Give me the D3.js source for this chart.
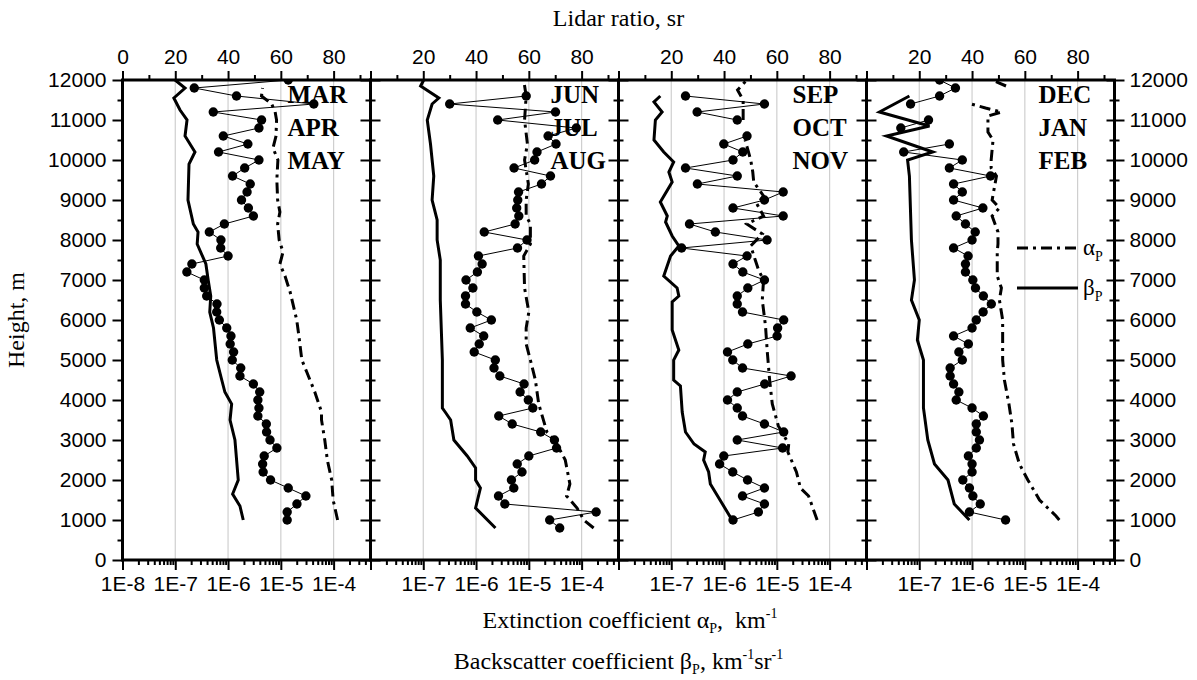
<!DOCTYPE html>
<html>
<head>
<meta charset="utf-8">
<script src="https://cdn.jsdelivr.net/npm/d3@7"></script>
<style>
  body { margin: 0; background: #fff; }
  svg { display: block; }
  .axis path.domain { display: none; }
  .axis line { stroke: #000; stroke-width: 2; }
  .axis text { font-family: "Liberation Sans", Arial, sans-serif; font-size: 21px; fill: #000; }
  .serif { font-family: "Liberation Serif", "Times New Roman", serif; fill: #000; }
</style>
</head>
<body>
<svg id="chart" width="1197" height="680"></svg>
<script>
// heights of the lidar ratio points (m)
var heights = [800,
  1000, 1200, 1400, 1600, 1800, 2000, 2200, 2400, 2600, 2800,
  3000, 3200, 3400, 3600, 3800, 4000, 4200, 4400, 4600, 4800,
  5000, 5200, 5400, 5600, 5800, 6000, 6200, 6400, 6600, 6800,
  7000, 7200, 7400, 7600, 7800, 8000, 8200, 8400, 8600, 8800,
  9000, 9200, 9400, 9600, 9800, 10000, 10200, 10400, 10600, 10800,
  11000, 11200, 11400, 11600, 11800, 12000];

var seasons = [["MAR", "APR", "MAY"], ["JUN", "JUL", "AUG"], ["SEP", "OCT", "NOV"], ["DEC", "JAN", "FEB"]];

// lidar ratio, sr (same order as heights)
var lrMAM = [null,
  62.4, 62.4, 66.1, 69.5, 62.8, 56.1, 53.3, 53.1, 53.7, 58.5,
  55.9, 54.6, 54.5, 51.3, 51.7, 51.3, 52.0, 49.6, 44.5, 44.8,
  41.6, 42.1, 40.8, 41.1, 39.5, 36.7, 35.7, 35.8, 31.9, 31.0,
  31.0, 24.4, 26.3, 40.0, 37.2, 37.3, 32.9, 38.6, 49.6, 47.7,
  45.1, 47.2, 48.4, 41.7, 46.3, 51.7, 36.4, 47.5, 38.2, 51.7,
  52.7, 34.4, 72.5, 43.2, 27.2, 62.8];
var lrJJA = [71.7,
  67.9, 85.5, 50.9, 48.5, 54.3, 53.4, 57.4, 55.6, 60.0, 70.5,
  69.7, 64.5, 53.7, 48.6, 61.5, 59.8, 56.7, 58.2, 49.0, 46.8,
  47.3, 39.3, 41.2, 42.9, 37.8, 45.8, 40.3, 36.0, 36.0, 38.8,
  36.2, 40.5, 42.3, 40.9, 55.7, 59.3, 43.1, 54.8, 56.2, 55.4,
  55.8, 56.1, 64.8, 68.2, 54.4, 62.2, 63.1, 70.3, 67.3, 78.0,
  48.2, 70.1, 30.0, 59.0, null, null];
var lrSON = [null,
  43.4, 53.0, 55.3, 47.0, 55.3, 48.9, 43.3, 38.3, 39.9, 62.2,
  45.0, 62.6, 55.3, 47.0, 45.0, 41.3, 45.0, 55.4, 65.4, 47.0,
  43.3, 41.3, 49.0, 60.1, 60.3, 62.6, 47.0, 45.0, 45.0, 49.0,
  55.3, 47.1, 43.4, 48.7, 23.9, 56.3, 36.7, 26.9, 62.4, 43.4,
  55.3, 62.4, 29.9, 45.0, 25.4, 43.4, 47.1, 39.9, 48.7, null,
  45.0, 29.8, 55.3, 25.4, null, null];
var lrDJF = [null,
  52.7, 39.0, 43.1, 40.3, 39.0, 36.5, 40.0, 40.0, 38.6, 41.6,
  42.8, 41.6, 41.6, 44.3, 40.0, 34.0, 35.0, 33.0, 31.7, 31.7,
  36.3, 35.0, 38.6, 33.0, 40.0, 41.6, 44.2, 47.3, 44.3, 41.3,
  40.3, 37.5, 37.5, 38.5, 33.0, 40.0, 41.2, 37.5, 34.0, 44.1,
  33.0, 36.3, 33.0, 47.0, 31.4, 36.3, 14.1, 31.4, null, 13.0,
  23.5, null, 16.7, 27.7, 33.7, 27.7];

// extinction alpha_P, km-1 : [height m, value]
var alphaMAM = [[1000, 1.19e-4], [1500, 9.8e-5], [2000, 9.2e-5], [2500, 7.6e-5], [3000, 6.8e-5],
  [3500, 5.9e-5], [3700, 5.9e-5], [4200, 4.4e-5], [4700, 3.1e-5], [5000, 2.5e-5], [5600, 2.2e-5],
  [6000, 2.0e-5], [6700, 1.5e-5], [7100, 1.2e-5], [7400, 9.6e-6], [7700, 1.1e-5], [8000, 9.3e-6],
  [8400, 8.7e-6], [8700, 9.6e-6], [9000, 8.7e-6], [9500, 8.4e-6], [10000, 8.8e-6], [10300, 7.1e-6],
  [10600, 8.1e-6], [11000, 8.3e-6], [11200, 7.8e-6], [11400, 6.7e-6], [11600, 4.3e-6], [11800, 4.5e-6]];
var alphaJJA = [[800, 1.69e-4], [1000, 1.1e-4], [1300, 8.2e-5], [1600, 5.2e-5], [1900, 6.0e-5],
  [2500, 4.9e-5], [2900, 3.4e-5], [3200, 2.2e-5], [3900, 1.54e-5], [4500, 1.33e-5], [5000, 1.07e-5],
  [5400, 8.9e-6], [5800, 8.9e-6], [6200, 1.0e-5], [6800, 8.3e-6], [7600, 8.0e-6], [7900, 1.07e-5],
  [8400, 1.07e-5], [8600, 8.9e-6], [9000, 8.9e-6], [9400, 9.8e-6], [10000, 8.3e-6], [10400, 9.4e-6],
  [11000, 8.3e-6], [11600, 8.9e-6], [12000, 8.0e-6]];
var alphaSON = [[1000, 5.8e-5], [1600, 4.0e-5], [1800, 2.8e-5], [2200, 2.35e-5], [2700, 1.62e-5],
  [2900, 1.68e-5], [3350, 1.07e-5], [3900, 8.2e-6], [4500, 7.3e-6], [5200, 6.6e-6], [5850, 6.1e-6],
  [6500, 5.3e-6], [7000, 5.6e-6], [7250, 4.5e-6], [7500, 3.9e-6], [7850, 3.2e-6], [8150, 5.3e-6],
  [8400, 2.7e-6], [8600, 5.6e-6], [8900, 4.2e-6], [9100, 5.6e-6], [9450, 3.65e-6], [9700, 3.5e-6],
  [10000, 3.2e-6], [10200, 2.9e-6], [10500, 2.5e-6], [10800, null], [11000, 2.3e-6], [11500, 2.3e-6],
  [11750, 1.8e-6], [12000, 2.7e-6]];
var alphaDJF = [[1000, 4.5e-5], [1100, 3.9e-5], [1500, 1.9e-5], [2000, 1.14e-5], [2400, 7.9e-6],
  [2900, 6.1e-6], [3400, 5.7e-6], [3900, 5.0e-6], [4500, 4.1e-6], [5000, 3.8e-6], [5400, 3.8e-6],
  [6000, 3.8e-6], [6500, 3.3e-6], [6800, 3.6e-6], [7100, 3.0e-6], [7700, 3.0e-6], [7900, 3.1e-6],
  [8200, 3.1e-6], [8600, 2.4e-6], [8800, 3.3e-6], [9000, 2.4e-6], [9600, 2.9e-6], [9800, 2.3e-6],
  [10000, 2.3e-6], [10500, 2.5e-6], [10700, 2.0e-6], [11100, 2.0e-6], [11200, 3.6e-6], [11300, 1.8e-6],
  [11400, 9.6e-7], [11600, null], [11850, 4.4e-6], [12000, 2.4e-6]];

// backscatter beta_P, km-1 sr-1 : [height m, value]
var betaMAM = [[1000, 1.94e-6], [1350, 1.68e-6], [1650, 1.22e-6], [2000, 1.56e-6], [3000, 1.35e-6],
  [3500, 1.09e-6], [3900, 1.17e-6], [4200, 8.7e-7], [4500, 7.6e-7], [5000, 6.1e-7], [5800, 5.3e-7],
  [6200, 4.5e-7], [6600, 4.7e-7], [7000, 4.2e-7], [7400, 3.8e-7], [7900, 2.6e-7], [8200, 2.7e-7],
  [8400, 2.2e-7], [9000, 1.74e-7], [9900, 1.82e-7], [10200, 2.36e-7], [10600, 1.53e-7], [11000, 1.67e-7],
  [11250, 1.23e-7], [11550, 9.4e-8], [11800, 1.53e-7], [12000, 9.9e-8]];
var betaJJA = [[800, 2.33e-6], [1300, 9.8e-7], [1800, 1.21e-6], [2000, 9.8e-7], [2300, 9.8e-7],
  [2600, 6.8e-7], [3000, 3.8e-7], [3500, 3.3e-7], [3700, 2.6e-7], [3800, 2.3e-7], [5000, 2.3e-7],
  [6500, 2.1e-7], [7500, 2.1e-7], [8000, 1.83e-7], [8500, 1.83e-7], [9000, 1.47e-7], [9600, 1.58e-7],
  [10400, 1.37e-7], [11000, 1.19e-7], [11400, 1.47e-7], [11550, 1.97e-7], [11850, 8.9e-8], [12000, 1.02e-7]];
var betaSON = [[1000, 1.42e-6], [1900, 5.5e-7], [2200, 5.1e-7], [2500, 4.1e-7], [2700, 4.4e-7],
  [2900, 2.7e-7], [3200, 1.86e-7], [3700, 1.61e-7], [4350, 1.49e-7], [4500, 1.11e-7], [5000, 1.11e-7],
  [5250, 1.39e-7], [5750, 1.04e-7], [6450, 1.04e-7], [6600, 1.39e-7], [6800, 1.29e-7], [7100, 7.2e-8],
  [7600, 9.7e-8], [7850, 1.39e-7], [8100, 1.04e-7], [8450, 7.8e-8], [8600, 8.4e-8], [8950, 6.2e-8],
  [9450, 1.04e-7], [9700, 9.0e-8], [9950, 1.11e-7], [10200, 7.2e-8], [10500, 4.7e-8], [11000, 5.0e-8],
  [11200, 6.7e-8], [11450, 4.7e-8], [11600, 6.2e-8]];
var betaDJF = [[1000, 8.9e-7], [1400, 4.6e-7], [2000, 3.5e-7], [2400, 1.94e-7], [3000, 1.45e-7],
  [3800, 1.2e-7], [5000, 1.2e-7], [5500, 9.2e-8], [6000, 1.0e-7], [6500, 7.1e-8], [7000, 8.1e-8],
  [8000, 7.1e-8], [9600, 6.5e-8], [10000, 6.0e-8], [10200, 1.8e-7], [10600, 2.4e-8], [10850, 1.56e-7],
  [11200, 1.76e-8], [11600, 6.5e-8]];

var lrSets = [lrMAM, lrJJA, lrSON, lrDJF];
var alphaSets = [alphaMAM, alphaJJA, alphaSON, alphaDJF];
var betaSets = [betaMAM, betaJJA, betaSON, betaDJF];

var svg = d3.select("#chart");
var plotLeft = 122.5, plotTop = 80, plotBottom = 560, panelW = 248;
var labelOffsets = [165, 180, 174, 172];   // where the month names start in each panel
var dashDot = "11,5,3,5";

var y = d3.scaleLinear().domain([0, 12000]).range([plotBottom, plotTop]);
var x = d3.scaleLog().domain([1e-8, 5e-4]).range([0, panelW]);
// top axis: 20 sr per decade of the bottom axis
var lrMax = 20 * Math.log10(5e-4 / 1e-8);
var xLR = d3.scaleLinear().domain([0, lrMax]).range([0, panelW]);

var decades = [1e-8, 1e-7, 1e-6, 1e-5, 1e-4];
var minorLog = [];
decades.forEach(function (d) {
  for (var k = 2; k <= 9; k++) {
    if (d * k <= 5e-4) minorLog.push(d * k);
  }
});
var yMajor = d3.range(0, 12001, 1000);
var yMinor = d3.range(500, 12000, 1000);

function expLabel(d) {
  return "1E" + Math.round(Math.log10(d));
}

svg.append("defs").append("clipPath")
  .attr("id", "plot-clip")
  .append("rect")
  .attr("x", 0)
  .attr("y", plotTop)
  .attr("width", panelW)
  .attr("height", plotBottom - plotTop);

for (var p = 0; p < 4; p++) {
  drawPanel(p);
}

function drawPanel(p) {
  var g = svg.append("g")
    .attr("transform", "translate(" + (plotLeft + p * panelW) + ",0)");

  //grid lines at every decade
  g.selectAll("line.grid")
    .data(decades.slice(1))
    .enter()
    .append("line")
    .attr("class", "grid")
    .attr("x1", function (d) { return x(d); })
    .attr("x2", function (d) { return x(d); })
    .attr("y1", plotTop)
    .attr("y2", plotBottom)
    .style("stroke", "#cfcfcf")
    .style("stroke-width", 1.2);

  var data = g.append("g").attr("clip-path", "url(#plot-clip)");

  var profileLine = d3.line()
    .defined(function (d) { return d[1] != null; })
    .x(function (d) { return x(d[1]); })
    .y(function (d) { return y(d[0]); });

  data.append("path")
    .datum(betaSets[p])
    .attr("d", profileLine)
    .style("fill", "none")
    .style("stroke", "#000")
    .style("stroke-width", 3);

  data.append("path")
    .datum(alphaSets[p])
    .attr("d", profileLine)
    .style("fill", "none")
    .style("stroke", "#000")
    .style("stroke-width", 3)
    .style("stroke-dasharray", dashDot);

  var lrPoints = heights.map(function (h, i) { return [h, lrSets[p][i]]; });

  data.append("path")
    .datum(lrPoints)
    .attr("d", d3.line()
      .defined(function (d) { return d[1] != null; })
      .x(function (d) { return xLR(d[1]); })
      .y(function (d) { return y(d[0]); }))
    .style("fill", "none")
    .style("stroke", "#000")
    .style("stroke-width", 1);

  data.selectAll("circle")
    .data(lrPoints.filter(function (d) { return d[1] != null; }))
    .enter()
    .append("circle")
    .attr("cx", function (d) { return xLR(d[1]); })
    .attr("cy", function (d) { return y(d[0]); })
    .attr("r", 4.7)
    .style("fill", "#000");

  //month names
  g.selectAll("text.month")
    .data(seasons[p])
    .enter()
    .append("text")
    .attr("class", "month serif")
    .attr("x", labelOffsets[p])
    .attr("y", function (d, i) { return 103 + i * 33; })
    .style("font-size", "25px")
    .style("font-weight", "bold")
    .text(function (d) { return d; });

  //bottom axis
  g.append("g")
    .attr("class", "axis")
    .attr("transform", "translate(0," + plotBottom + ")")
    .call(d3.axisBottom(x).tickValues(decades).tickSize(10).tickPadding(6)
      .tickFormat(function (d) { return (p > 0 && d === 1e-8) ? "" : expLabel(d); }));
  g.append("g")
    .attr("class", "axis")
    .attr("transform", "translate(0," + plotBottom + ")")
    .call(d3.axisBottom(x).tickValues(minorLog).tickSize(5).tickFormat(""));

  //top axis (lidar ratio)
  g.append("g")
    .attr("class", "axis")
    .attr("transform", "translate(0," + plotTop + ")")
    .call(d3.axisTop(xLR).tickValues([0, 20, 40, 60, 80]).tickSize(9).tickPadding(7)
      .tickFormat(function (d) { return (p > 0 && d === 0) ? "" : d; }));
  g.append("g")
    .attr("class", "axis")
    .attr("transform", "translate(0," + plotTop + ")")
    .call(d3.axisTop(xLR).tickValues([10, 30, 50, 70, 90]).tickSize(5).tickFormat(""));

  //left side
  g.append("g")
    .attr("class", "axis")
    .call(d3.axisLeft(y).tickValues(yMajor).tickSize(10).tickPadding(6)
      .tickFormat(function (d) { return p === 0 ? d : ""; }));
  g.append("g")
    .attr("class", "axis")
    .call(d3.axisLeft(y).tickValues(yMinor).tickSize(5).tickFormat(""));

  //right side
  g.append("g")
    .attr("class", "axis")
    .attr("transform", "translate(" + panelW + ",0)")
    .call(d3.axisRight(y).tickValues(yMajor).tickSize(10).tickPadding(5)
      .tickFormat(function (d) { return p === 3 ? d : ""; }));
  g.append("g")
    .attr("class", "axis")
    .attr("transform", "translate(" + panelW + ",0)")
    .call(d3.axisRight(y).tickValues(yMinor).tickSize(5).tickFormat(""));
  if (p === 3) {
    g.append("g")
      .attr("class", "axis")
      .attr("transform", "translate(" + panelW + ",0)")
      .call(d3.axisLeft(y).tickValues(yMajor).tickSize(8).tickFormat(""));
    g.append("g")
      .attr("class", "axis")
      .attr("transform", "translate(" + panelW + ",0)")
      .call(d3.axisLeft(y).tickValues(yMinor).tickSize(5).tickFormat(""));
  }

  //frame
  g.append("rect")
    .attr("x", 0)
    .attr("y", plotTop)
    .attr("width", panelW)
    .attr("height", plotBottom - plotTop)
    .style("fill", "none")
    .style("stroke", "#000")
    .style("stroke-width", 3);
}

//legend
var legend = svg.append("g").attr("class", "legend");
var legendItems = [
  {sym: "\u03b1", dash: dashDot, y: 248},
  {sym: "\u03b2", dash: null, y: 288}
];
var legendRows = legend.selectAll("g")
  .data(legendItems)
  .enter()
  .append("g")
  .attr("transform", function (d) { return "translate(1017," + d.y + ")"; });
legendRows.append("line")
  .attr("x1", 0)
  .attr("x2", 61)
  .style("stroke", "#000")
  .style("stroke-width", 3)
  .style("stroke-dasharray", function (d) { return d.dash; });
var legendText = legendRows.append("text")
  .attr("class", "serif")
  .attr("x", 66)
  .attr("y", 7)
  .style("font-size", "23px");
legendText.append("tspan").text(function (d) { return d.sym; });
legendText.append("tspan").attr("dy", 6).style("font-size", "14px").text("P");

//titles
svg.append("text")
  .attr("class", "serif")
  .attr("x", 618.5)
  .attr("y", 26)
  .attr("text-anchor", "middle")
  .style("font-size", "24px")
  .text("Lidar ratio, sr");

svg.append("text")
  .attr("class", "serif")
  .attr("transform", "translate(24,320) rotate(-90)")
  .attr("text-anchor", "middle")
  .style("font-size", "24px")
  .text("Height, m");

var ext = svg.append("text")
  .attr("class", "serif")
  .attr("x", 630)
  .attr("y", 628)
  .attr("text-anchor", "middle")
  .style("font-size", "24px");
ext.append("tspan").text("Extinction coefficient \u03b1");
ext.append("tspan").attr("dy", 5).style("font-size", "14px").text("P");
ext.append("tspan").attr("dy", -5).text(",\u00a0 km");
ext.append("tspan").attr("dy", -10).style("font-size", "14px").text("-1");

var back = svg.append("text")
  .attr("class", "serif")
  .attr("x", 618.5)
  .attr("y", 669)
  .attr("text-anchor", "middle")
  .style("font-size", "24px");
back.append("tspan").text("Backscatter coefficient \u03b2");
back.append("tspan").attr("dy", 5).style("font-size", "14px").text("P");
back.append("tspan").attr("dy", -5).text(", km");
back.append("tspan").attr("dy", -10).style("font-size", "14px").text("-1");
back.append("tspan").attr("dy", 10).text("sr");
back.append("tspan").attr("dy", -10).style("font-size", "14px").text("-1");
</script>
</body>
</html>
